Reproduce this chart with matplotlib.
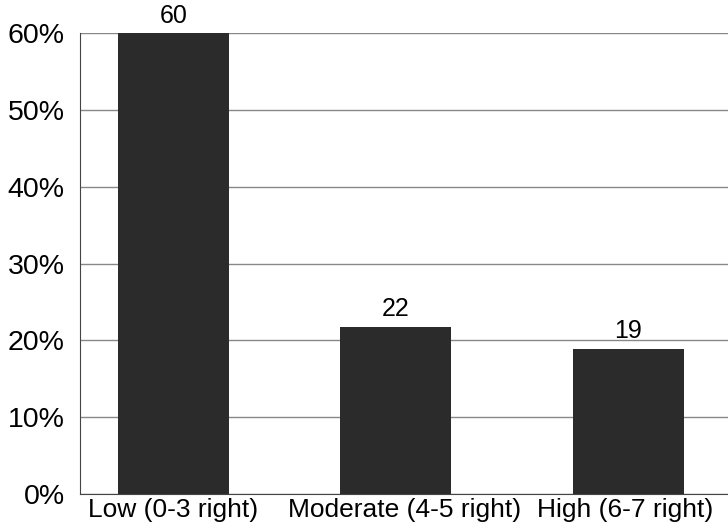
import matplotlib.pyplot as plt

categories = ["Low (0-3 right)", "Moderate (4-5 right)", "High (6-7 right)"]
values = [60, 21.8, 18.9]
labels = ["60", "22", "19"]
positions = [0, 0.977, 2.002]
label_positions = [0, 1.018, 1.986]

plt.rcParams['font.family'] = ['Liberation Sans', 'DejaVu Sans']

fig = plt.figure(figsize=(7.28, 5.30), dpi=100)
ax = fig.add_axes([80 / 728, 36 / 530, 648 / 728, 461 / 530])

bars = ax.bar(positions, values, width=0.49, color="#2b2b2b", zorder=3)
for b, lab in zip(bars, labels):
    ax.text(b.get_x() + b.get_width() / 2, b.get_height() + 0.7, lab,
            ha="center", va="bottom", fontsize=18)

ax.set_ylim(0, 60)
ax.set_xlim(-0.41, 2.44)
ax.set_yticks(range(0, 61, 10))
ax.set_yticklabels([f"{v}%" for v in range(0, 61, 10)], fontsize=20.5)
ax.set_xticks(label_positions)
ax.set_xticklabels(categories, fontsize=19)
ax.tick_params(axis="y", length=0, pad=11)
ax.tick_params(axis="x", length=0, pad=3)
ax.yaxis.grid(True, color="#888888", lw=1, zorder=0)
for s in ["top", "right"]:
    ax.spines[s].set_visible(False)
ax.spines["left"].set_color("#444444")
ax.spines["bottom"].set_color("#444444")

fig.savefig("out.png", dpi=100)
